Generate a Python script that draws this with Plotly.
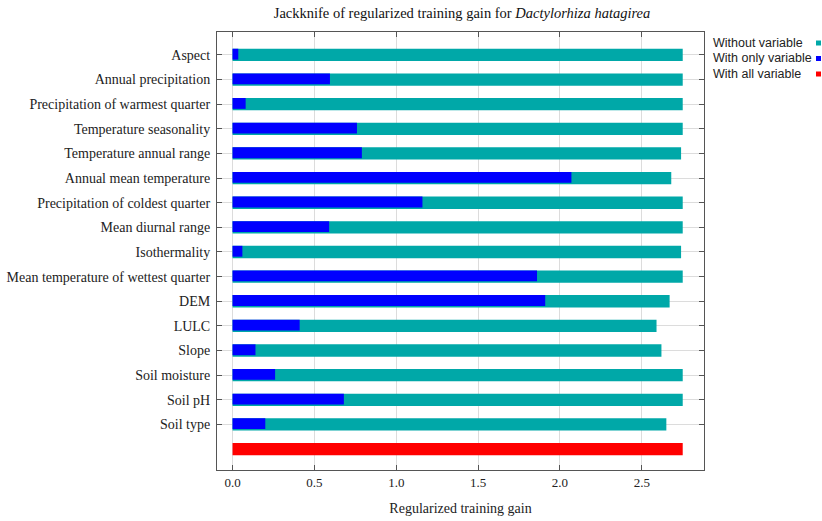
import plotly.graph_objects as go

variables = [
    "Aspect", "Annual precipitation", "Precipitation of warmest quarter",
    "Temperature seasonality", "Temperature annual range", "Annual mean temperature",
    "Precipitation of coldest quarter", "Mean diurnal range", "Isothermality",
    "Mean temperature of wettest quarter", "DEM", "LULC", "Slope",
    "Soil moisture", "Soil pH", "Soil type",
]
without_variable = [2.75, 2.75, 2.75, 2.75, 2.74, 2.68, 2.75, 2.75, 2.74,
                    2.75, 2.67, 2.59, 2.62, 2.75, 2.75, 2.65]
with_only_variable = [0.035, 0.595, 0.08, 0.76, 0.79, 2.07, 1.16, 0.59, 0.06,
                      1.86, 1.91, 0.41, 0.14, 0.26, 0.68, 0.20]
with_all_variable = 2.75
x_ticks = [0.0, 0.5, 1.0, 1.5, 2.0, 2.5]

TEAL = "#00A8A8"
BLUE = "#0000FF"
RED = "#FF0000"
SERIF = "Liberation Serif"

W, H = 822, 521
ML, MR, MT, MB = 217, 118, 32, 51
PW, PH = W - ML - MR, H - MT - MB

rows = list(range(len(variables)))
fig = go.Figure()
fig.add_trace(go.Bar(y=rows, x=without_variable, orientation="h",
                     marker=dict(color=TEAL, line=dict(width=0)), width=0.5,
                     name="Without variable", showlegend=False))
fig.add_trace(go.Bar(y=rows, x=with_only_variable, orientation="h",
                     marker=dict(color=BLUE, line=dict(width=0)), width=0.44,
                     offset=-0.25,
                     name="With only variable", showlegend=False))
fig.add_trace(go.Bar(y=[len(variables)], x=[with_all_variable], orientation="h",
                     marker=dict(color=RED, line=dict(width=0)), width=0.5,
                     name="With all variable", showlegend=False))

fig.update_layout(
    width=W, height=H,
    margin=dict(l=ML, r=MR, t=MT, b=MB),
    barmode="overlay",
    plot_bgcolor="white", paper_bgcolor="white",
    title=dict(text="Jackknife of regularized training gain for <i>Dactylorhiza hatagirea</i>",
               x=(462 - ML) / PW, xref="paper", xanchor="center", y=1 - 13 / H, yanchor="middle",
               font=dict(family=SERIF, size=14.5, color="#111")),
    font=dict(family=SERIF, size=14, color="#222"),
)
fig.update_xaxes(
    range=[-0.095, 2.88], tickvals=x_ticks, ticktext=[f"{v:.1f}" for v in x_ticks],
    ticks="inside", ticklen=5, tickcolor="#555", mirror="ticks",
    showline=True, linecolor="#555", linewidth=1,
    showgrid=True, gridcolor="#dcdcdc", gridwidth=1, zeroline=False,
    tickfont=dict(family=SERIF, size=13, color="#222"), automargin=False,
    title=dict(text="Regularized training gain", font=dict(family=SERIF, size=14, color="#222"),
               standoff=14),
)
fig.update_yaxes(
    range=[16.85, -0.93], tickvals=rows, ticktext=variables,
    ticks="inside", ticklen=5, tickcolor="#555", mirror="ticks",
    showline=True, linecolor="#555", linewidth=1,
    showgrid=True, gridcolor="#dcdcdc", gridwidth=1, zeroline=False,
    tickfont=dict(family=SERIF, size=14, color="#222"), ticklabelstandoff=3,
    automargin=False,
)

legend_items = [("Without variable", TEAL), ("With only variable", BLUE), ("With all variable", RED)]
for i, (label, color) in enumerate(legend_items):
    ypix = 43 + i * 15.5
    yp = 1 - (ypix - MT) / PH
    fig.add_annotation(text=label, xref="paper", yref="paper", x=(711 - ML) / PW,
                       y=yp, xanchor="left", yanchor="middle", showarrow=False,
                       font=dict(family="Liberation Sans", size=12.5, color="#222"))
    fig.add_shape(type="rect", xref="paper", yref="paper",
                  x0=(816 - ML) / PW, x1=(821 - ML) / PW,
                  y0=1 - (ypix + 2.5 - MT) / PH, y1=1 - (ypix - 2.5 - MT) / PH,
                  fillcolor=color, line=dict(width=0), layer="above")

fig.write_html("out.html", config={"displayModeBar": False},
               post_script="document.body.style.margin='0';document.body.style.overflow='hidden';")
